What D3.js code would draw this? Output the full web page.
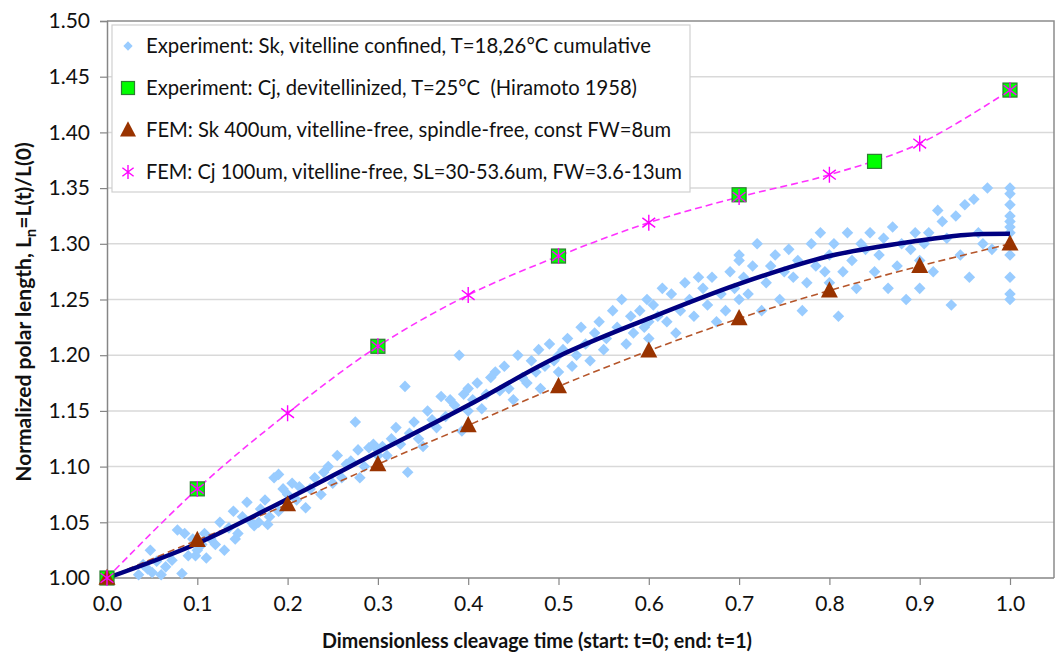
<!DOCTYPE html>
<html>
<head>
<meta charset="utf-8">
<script src="https://cdn.jsdelivr.net/npm/d3@7"></script>
<style>
  body { margin: 0; background: #fff; }
  svg { display: block; }
</style>
</head>
<body>
<div id="chart"></div>
<script>
'use strict';

// ---- data ----
const xTicks = [0, 0.1, 0.2, 0.3, 0.4, 0.5, 0.6, 0.7, 0.8, 0.9, 1.0];
const yTicks = [1.00, 1.05, 1.10, 1.15, 1.20, 1.25, 1.30, 1.35, 1.40, 1.45, 1.50];

// Experiment Sk scatter [t, L]
const skPoints = [
  [0.035,1.003],[0.04,1.012],[0.045,1.008],[0.048,1.025],[0.05,1.005],[0.055,1.015],[0.06,1.003],
  [0.065,1.01],[0.072,1.016],[0.078,1.043],[0.083,1.004],[0.086,1.04],[0.09,1.02],[0.095,1.035],
  [0.098,1.02],[0.1,1.025],[0.105,1.03],[0.108,1.04],[0.11,1.018],
  [0.115,1.035],[0.12,1.03],[0.125,1.05],[0.13,1.025],[0.135,1.045],[0.14,1.06],[0.142,1.035],
  [0.145,1.04],[0.15,1.055],[0.155,1.068],[0.16,1.05],[0.163,1.047],[0.168,1.05],[0.17,1.062],
  [0.175,1.07],[0.178,1.048],[0.18,1.055],[0.185,1.09],[0.19,1.093],[0.19,1.06],[0.195,1.08],[0.2,1.075],
  [0.205,1.085],[0.21,1.07],[0.213,1.082],[0.22,1.063],[0.225,1.08],[0.23,1.09],[0.237,1.075],
  [0.24,1.095],[0.245,1.1],[0.25,1.085],[0.255,1.11],[0.26,1.09],[0.265,1.102],[0.27,1.105],
  [0.275,1.14],[0.278,1.115],[0.28,1.09],[0.285,1.1],[0.29,1.117],[0.295,1.12],[0.3,1.11],[0.3,1.115],
  [0.305,1.118],[0.31,1.11],[0.315,1.125],[0.32,1.135],[0.325,1.12],[0.33,1.172],[0.333,1.095],
  [0.335,1.13],[0.34,1.14],[0.345,1.125],[0.35,1.118],[0.355,1.15],[0.36,1.142],[0.365,1.135],
  [0.37,1.163],[0.375,1.145],[0.38,1.16],[0.385,1.155],[0.39,1.2],[0.393,1.132],[0.395,1.165],
  [0.4,1.17],[0.4,1.15],
  [0.405,1.16],[0.41,1.175],[0.415,1.152],[0.42,1.165],[0.425,1.18],[0.43,1.185],[0.435,1.168],
  [0.44,1.19],[0.445,1.17],[0.45,1.16],[0.455,1.2],[0.46,1.18],[0.465,1.175],[0.47,1.195],
  [0.475,1.185],[0.478,1.205],[0.48,1.17],[0.485,1.19],[0.49,1.21],[0.495,1.195],[0.5,1.2],[0.5,1.185],
  [0.505,1.205],[0.51,1.215],[0.515,1.19],[0.52,1.2],[0.525,1.225],[0.53,1.21],[0.535,1.195],
  [0.54,1.22],[0.545,1.23],[0.55,1.205],[0.553,1.215],[0.56,1.24],[0.565,1.225],[0.57,1.25],
  [0.575,1.21],[0.58,1.235],[0.583,1.22],[0.59,1.24],[0.595,1.225],[0.6,1.23],[0.6,1.215],[0.598,1.25],
  [0.605,1.245],[0.61,1.235],[0.615,1.26],[0.62,1.23],[0.625,1.255],[0.63,1.22],[0.635,1.24],
  [0.64,1.265],[0.645,1.25],[0.65,1.235],[0.655,1.27],[0.66,1.26],[0.665,1.245],[0.67,1.27],
  [0.675,1.23],[0.68,1.255],[0.685,1.24],[0.69,1.275],[0.695,1.26],[0.7,1.25],[0.7,1.29],[0.7,1.285],
  [0.705,1.27],[0.71,1.255],[0.715,1.28],[0.72,1.3],[0.725,1.24],[0.73,1.265],[0.735,1.28],
  [0.74,1.29],[0.745,1.25],[0.75,1.275],[0.755,1.295],[0.76,1.27],[0.765,1.285],[0.77,1.24],
  [0.775,1.265],[0.78,1.3],[0.785,1.28],[0.79,1.31],[0.795,1.275],[0.8,1.29],[0.8,1.265],[0.81,1.235],
  [0.805,1.3],[0.815,1.275],[0.82,1.31],[0.825,1.285],[0.83,1.26],[0.835,1.3],[0.84,1.295],
  [0.845,1.31],[0.85,1.275],[0.855,1.29],[0.86,1.305],[0.865,1.26],[0.87,1.315],[0.875,1.28],
  [0.88,1.3],[0.885,1.25],[0.89,1.295],[0.895,1.31],[0.9,1.285],[0.9,1.26],
  [0.905,1.3],[0.91,1.31],[0.915,1.275],[0.92,1.33],[0.925,1.32],[0.93,1.305],[0.935,1.245],
  [0.94,1.325],[0.945,1.29],[0.95,1.335],[0.955,1.27],[0.96,1.34],[0.965,1.31],[0.97,1.3],
  [0.975,1.35],[0.98,1.295],
  [1.0,1.35],[1.0,1.345],[1.0,1.335],[1.0,1.325],[1.0,1.32],[1.0,1.31],[1.0,1.29],[1.0,1.27],
  [1.0,1.255],[1.0,1.25],[1.0,1.315]
];

// fitted trend through the Sk experiment
const skFit = [
  [0,1.0],[0.1,1.031],[0.2,1.071],[0.3,1.113],[0.4,1.155],[0.5,1.199],[0.6,1.233],
  [0.7,1.264],[0.8,1.289],[0.9,1.303],[0.95,1.308],[1.0,1.309]
];

// Hiramoto 1958, Cj devitellinized
const cjExp = [[0,1.0],[0.1,1.080],[0.3,1.208],[0.5,1.289],[0.7,1.344],[0.85,1.374],[1.0,1.438]];

// FEM Sk 400um
const femSk = [
  [0,1.0],[0.1,1.034],[0.2,1.066],[0.3,1.102],[0.4,1.137],[0.5,1.172],[0.6,1.204],
  [0.7,1.233],[0.8,1.258],[0.9,1.280],[1.0,1.300]
];

// FEM Cj 100um
const femCj = [
  [0,1.0],[0.1,1.080],[0.2,1.148],[0.3,1.208],[0.4,1.254],[0.5,1.289],[0.6,1.319],
  [0.7,1.342],[0.8,1.362],[0.9,1.390],[1.0,1.438]
];

const legendLabels = [
  "Experiment: Sk, vitelline confined, T=18,26°C cumulative",
  "Experiment: Cj, devitellinized, T=25°C\u00a0\u00a0(Hiramoto 1958)",
  "FEM: Sk 400um, vitelline-free, spindle-free, const FW=8um",
  "FEM: Cj 100um, vitelline-free, SL=30-53.6um, FW=3.6-13um"
];

// ---- layout ----
const svg_width = 1060, svg_height = 656;
const plot = {left: 107, top: 21, right: 1054, bottom: 578};
const FONT = 'Lato, "Open Sans", sans-serif';

const svg = d3.select('#chart').append('svg')
  .attr('width', svg_width)
  .attr('height', svg_height)
  .attr('font-family', FONT);

const x = d3.scaleLinear().domain([0, 1.05]).range([plot.left, plot.left + 903 * 1.05]);
const y = d3.scaleLinear().domain([1.0, 1.5]).range([plot.bottom, plot.top]);

// gridlines
svg.append('g').selectAll('line')
  .data(yTicks.filter(d => d > 1.0 && d < 1.5))
  .join('line')
  .attr('x1', plot.left).attr('x2', plot.right)
  .attr('y1', d => y(d)).attr('y2', d => y(d))
  .attr('stroke', '#d9d9d9').attr('stroke-width', 1.5);

// plot border (top/right)
svg.append('path')
  .attr('d', `M${plot.left},${plot.top}H${plot.right}V${plot.bottom}`)
  .attr('fill', 'none').attr('stroke', '#8c8c8c').attr('stroke-width', 1.5);

// axes
const axisX = svg.append('g')
  .attr('transform', `translate(0,${plot.bottom})`)
  .call(d3.axisBottom(x).tickValues(xTicks).tickFormat(d3.format('.1f')).tickSize(7).tickPadding(12));
axisX.select('.domain').attr('d', `M${plot.left},0H${plot.right}`);

const axisY = svg.append('g')
  .attr('transform', `translate(${plot.left},0)`)
  .call(d3.axisLeft(y).tickValues(yTicks).tickFormat(d3.format('.2f')).tickSize(7).tickPadding(10));

svg.selectAll('.domain').attr('stroke', '#868686').attr('stroke-width', 1.5);
svg.selectAll('.tick line').attr('stroke', '#868686').attr('stroke-width', 1.2);
axisX.attr('font-family', FONT).attr('font-size', 21);
axisY.attr('font-family', FONT).attr('font-size', 21);
svg.selectAll('.tick text').attr('fill', '#111');
axisX.selectAll('.tick text').attr('dy', '0.68em');

// axis titles
svg.append('text')
  .attr('text-anchor', 'middle')
  .attr('font-size', 21).attr('font-weight', 'bold').attr('fill', '#111')
  .attr('x', 537).attr('y', 648)
  .attr('textLength', 430).attr('lengthAdjust', 'spacingAndGlyphs')
  .text('Dimensionless cleavage time (start: t=0; end: t=1)');

const yTitle = svg.append('text')
  .attr('text-anchor', 'middle')
  .attr('font-size', 21).attr('font-weight', 'bold').attr('fill', '#111')
  .attr('transform', `translate(31,312) rotate(-90)`);
yTitle.append('tspan').text('Normalized polar length, L');
yTitle.append('tspan').attr('font-size', 15).attr('dy', 5).text('n');
yTitle.append('tspan').attr('dy', -5).text('=L(t)/L(0)');

// ---- marks ----
const diamond = d3.symbol().type(d3.symbolDiamond2).size(85);
const star = r => `M0,${-r}V${r}M${-r*0.8},${-r*0.6}L${r*0.8},${r*0.6}M${-r*0.8},${r*0.6}L${r*0.8},${-r*0.6}`;
const tri = s => `M0,${-s*0.55}L${s*0.5},${s*0.4}L${-s*0.5},${s*0.4}Z`;

const chart = svg.append('g').attr('class', 'chart');

chart.selectAll('path.sk')
  .data(skPoints)
  .join('path')
  .attr('class', 'sk')
  .attr('d', diamond)
  .attr('transform', d => `translate(${x(d[0])},${y(d[1])})`)
  .attr('fill', '#99ccff');

const line = d3.line().x(d => x(d[0])).y(d => y(d[1])).curve(d3.curveCatmullRom);

chart.append('path')
  .datum(femCj)
  .attr('d', line)
  .attr('fill', 'none').attr('stroke', '#ff33ff').attr('stroke-width', 1.6)
  .attr('stroke-dasharray', '7,4');

chart.append('path')
  .datum(femSk)
  .attr('d', line)
  .attr('fill', 'none').attr('stroke', '#b5552a').attr('stroke-width', 1.6)
  .attr('stroke-dasharray', '7,4');

chart.append('path')
  .datum(skFit)
  .attr('d', line)
  .attr('fill', 'none').attr('stroke', '#000080').attr('stroke-width', 4.5);

chart.selectAll('rect.cj')
  .data(cjExp)
  .join('rect')
  .attr('class', 'cj')
  .attr('x', d => x(d[0]) - 7).attr('y', d => y(d[1]) - 7)
  .attr('width', 14).attr('height', 14)
  .attr('fill', '#00ff00').attr('stroke', '#2e7d32').attr('stroke-width', 1.2);

chart.selectAll('path.femsk')
  .data(femSk)
  .join('path')
  .attr('class', 'femsk')
  .attr('d', tri(17))
  .attr('transform', d => `translate(${x(d[0])},${y(d[1])})`)
  .attr('fill', '#993300');

chart.selectAll('path.femcj')
  .data(femCj)
  .join('path')
  .attr('class', 'femcj')
  .attr('d', star(8))
  .attr('transform', d => `translate(${x(d[0])},${y(d[1])})`)
  .attr('fill', 'none').attr('stroke', '#ff00ff').attr('stroke-width', 1.4);

// ---- legend ----
const legend = svg.append('g').attr('class', 'legend');
legend.append('rect')
  .attr('x', 112).attr('y', 25).attr('width', 578).attr('height', 167)
  .attr('fill', '#fff').attr('stroke', '#d0d0d0').attr('stroke-width', 1.2);

const legendY = [46, 88, 130, 172];
const legendW = [505, 491, 525, 536];
const items = legend.selectAll('g.item')
  .data(legendLabels)
  .join('g')
  .attr('class', 'item')
  .attr('transform', (d, i) => `translate(128,${legendY[i]})`);

items.append('text')
  .attr('x', 18).attr('dy', '0.35em')
  .attr('font-size', 21).attr('fill', '#111')
  .attr('textLength', (d, i) => legendW[i])
  .attr('lengthAdjust', 'spacingAndGlyphs')
  .text(d => d);

items.filter((d, i) => i === 0).append('path')
  .attr('d', d3.symbol().type(d3.symbolDiamond2).size(55)).attr('fill', '#99ccff');
items.filter((d, i) => i === 1).append('rect')
  .attr('x', -6.5).attr('y', -6.5).attr('width', 13).attr('height', 13)
  .attr('fill', '#00ff00').attr('stroke', '#2e7d32').attr('stroke-width', 1.2);
items.filter((d, i) => i === 2).append('path')
  .attr('d', tri(16)).attr('fill', '#993300');
items.filter((d, i) => i === 3).append('path')
  .attr('d', star(7)).attr('fill', 'none').attr('stroke', '#ff00ff').attr('stroke-width', 1.4);
</script>
</body>
</html>
